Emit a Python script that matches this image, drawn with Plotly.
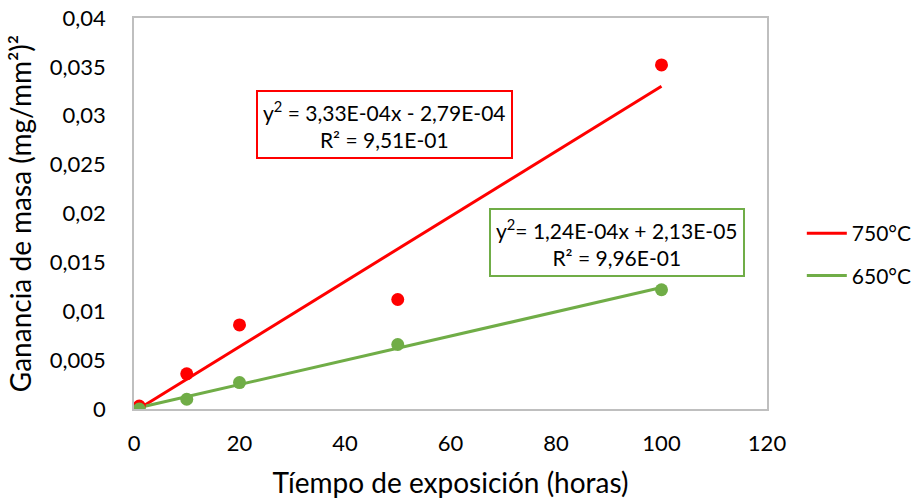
import plotly.graph_objects as go

# Data
hours = [1, 10, 20, 50, 100]
gain_750 = [0.0003, 0.0036, 0.0086, 0.0112, 0.0352]
gain_650 = [0.0000, 0.0010, 0.0027, 0.0066, 0.0122]

# Trendline coefficients (from the equations shown)
slope_750, intercept_750 = 3.33e-4, -2.79e-4
slope_650, intercept_650 = 1.24e-4, 2.13e-5
trend_x = [1, 100]

y_tickvals = [0, 0.005, 0.01, 0.015, 0.02, 0.025, 0.03, 0.035, 0.04]
y_ticktext = ["0", "0,005", "0,01", "0,015", "0,02", "0,025", "0,03", "0,035", "0,04"]
x_tickvals = [0, 20, 40, 60, 80, 100, 120]

RED = "#FF0000"
GREEN = "#70AD47"
FONT = "Lato"

fig = go.Figure()

# trendlines (legend entries)
fig.add_trace(go.Scatter(
    x=trend_x, y=[slope_750 * x + intercept_750 for x in trend_x],
    mode="lines", line=dict(color=RED, width=3), name="750°C",
    legendgroup="a"))
fig.add_trace(go.Scatter(
    x=trend_x, y=[slope_650 * x + intercept_650 for x in trend_x],
    mode="lines", line=dict(color=GREEN, width=3), name="650°C",
    legendgroup="b"))

# data markers
fig.add_trace(go.Scatter(
    x=hours, y=gain_750, mode="markers",
    marker=dict(color=RED, size=13), showlegend=False, legendgroup="a"))
fig.add_trace(go.Scatter(
    x=hours, y=gain_650, mode="markers",
    marker=dict(color=GREEN, size=13), showlegend=False, legendgroup="b"))

fig.add_annotation(
    x=47.4, y=0.02915, xref="x", yref="y",
    text="y<sup>2</sup> = 3,33E-04x - 2,79E-04<br>R² = 9,51E-01",
    showarrow=False, font=dict(family=FONT, size=21, color="black"),
    bordercolor=RED, borderwidth=2, borderpad=5, bgcolor="white", align="center")
fig.add_annotation(
    x=91.6, y=0.0170, xref="x", yref="y",
    text="y<sup>2</sup>= 1,24E-04x + 2,13E-05<br>R² = 9,96E-01",
    showarrow=False, font=dict(family=FONT, size=21, color="black"),
    bordercolor=GREEN, borderwidth=2, borderpad=5, bgcolor="white", align="center")

fig.update_layout(
    width=923, height=500,
    margin=dict(l=134, r=156, t=18, b=91, autoexpand=False),
    paper_bgcolor="white", plot_bgcolor="white",
    font=dict(family=FONT, size=22, color="black"),
    legend=dict(x=1.055, y=0.395, xanchor="left", yanchor="middle",
                font=dict(family=FONT, size=21, color="black"),
                traceorder="grouped", tracegroupgap=12, itemwidth=40),
    xaxis=dict(range=[0, 120], tickvals=x_tickvals, showgrid=False,
               showline=True, linecolor="#BFBFBF", linewidth=1.5, mirror=True,
               ticks="outside", ticklen=14, tickcolor="rgba(0,0,0,0)",
               zeroline=False, automargin=False,
               title=dict(text="Tíempo de exposición (horas)",
                          font=dict(family=FONT, size=28), standoff=18)),
    yaxis=dict(range=[0, 0.04], tickvals=y_tickvals, ticktext=y_ticktext,
               showgrid=False, showline=True, linecolor="#BFBFBF", linewidth=1.5,
               mirror=True, ticks="outside", ticklen=22, automargin=False,
               tickcolor="rgba(0,0,0,0)", zeroline=False,
               title=dict(text="Ganancia de masa (mg/mm²)²",
                          font=dict(family=FONT, size=28), standoff=10)),
)

fig.write_html("out.html")
